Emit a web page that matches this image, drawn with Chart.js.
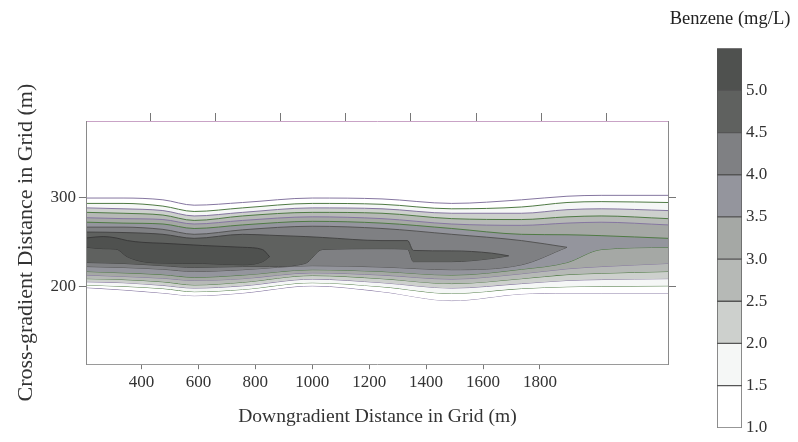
<!DOCTYPE html>
<html>
<head>
<meta charset="utf-8">
<script src="https://cdn.jsdelivr.net/npm/chart.js@4.4.1/dist/chart.umd.min.js"></script>
<style>
  html, body { margin: 0; padding: 0; background: #fff; }
  #wrap { position: relative; width: 798px; height: 442px; }
  #plume { position: absolute; left: 0; top: 0; }
  #scale { position: absolute; left: 662px; top: 0; }
</style>
</head>
<body>
<div id="wrap">
  <canvas id="plume" width="798" height="442"></canvas>
  <canvas id="scale" width="136" height="442"></canvas>
</div>
<script>
// contour levels (mg/L) and the shade used inside each level
const levelValues = [1.0, 1.5, 2.0, 2.5, 3.0, 3.5, 4.0, 4.5, 5.0, 5.5];
const bandColors = ['#ffffff', '#f5f7f6', '#cdd0cd', '#b6b9b6', '#a5a8a5', '#94959d', '#7f8083', '#5f615f', '#4f514f'];
const lineColors = ['#8576a0', '#4f7a44', '#8576a0', '#4f7a44', '#8576a0', '#4f7a44', '#555555', '#454545', '#3a3a3a'];

// axis ticks
const xTicks = [400, 600, 800, 1000, 1200, 1400, 1600, 1800];
const topTicks = [100, 200, 300, 400, 500, 600, 700, 800];
const yTicks = [200, 300];

// contours spanning the whole grid (downgradient x, cross-gradient y)
const contourX = [208, 335, 475, 585, 755, 1000, 1245, 1490, 1735, 1895, 2015, 2250];
const upper10 = [299, 299, 297, 291, 294, 299, 298, 293, 297, 301, 302, 302];
const lower10 = [199, 196.5, 193, 190, 193, 201, 194.5, 184.5, 192, 193, 193, 193];
const upper15 = [293, 293, 290, 284, 288, 293, 292, 287, 289, 294, 295, 294];
const lower15 = [202, 200.5, 198, 194.5, 197, 204.5, 200, 192.5, 198, 200, 200.5, 201];
const upper20 = [288, 287, 285, 279, 283, 288, 287, 282, 282, 286, 287, 285];
const lower20 = [205.5, 204.5, 201.5, 198.5, 201, 208.5, 204.5, 198.5, 203.5, 207, 208, 209];
const upper25 = [283, 282, 280, 274, 279, 283, 282, 276, 275, 278, 279, 276];
const lower25 = [209, 208, 205.5, 202, 205, 212.5, 209, 203.5, 209, 213.5, 215, 217];
const upper30 = [277, 276, 275, 270, 274, 278, 276, 270, 268.5, 271, 272, 269];
const lower30 = [213, 211.5, 209.5, 207, 209, 215.5, 213, 208.5, 214.5, 220, 222.5, 226];
const upper35 = [272, 271, 270, 265, 269, 273, 271, 265, 258.5, 258, 257, 254];
const lower35 = [217, 215.5, 213.5, 210.5, 213, 219, 217, 213, 219.5, 227, 241.5, 244];

// inner contours that close inside the grid
const x40 = [208, 335, 475, 585, 755, 1000, 1245, 1490, 1735, 1895];
const upper40 = [266.5, 266.5, 264, 258.5, 263.5, 267.5, 265, 258.5, 251.5, 244];
const lower40 = [222.5, 221.5, 219.5, 217, 219, 223.5, 222, 219, 224.5, 244];

const x45 = [208, 335, 475, 585, 755, 850, 975, 1035, 1245, 1335, 1355, 1490, 1630, 1690];
const upper45 = [261, 260.5, 258.5, 254, 258.5, 257.5, 256, 255, 251.5, 251.5, 240.5, 240, 237.5, 234.5];
const lower45 = [227, 226, 223.5, 221.5, 222.5, 222.5, 226, 241.5, 242.5, 242, 228, 228, 231.5, 234.5];

const x50 = [208, 265, 310, 350, 405, 475, 615, 755, 825, 850];
const upper50 = [254.5, 256, 254.5, 251.5, 249.5, 248.5, 246, 244, 241.5, 233.5];
const lower50 = [244, 242.5, 242, 233.5, 228, 226.5, 226, 224.5, 228, 233.5];

const contours = [
  [contourX, upper10, lower10],
  [contourX, upper15, lower15],
  [contourX, upper20, lower20],
  [contourX, upper25, lower25],
  [contourX, upper30, lower30],
  [contourX, upper35, lower35],
  [x40, upper40, lower40],
  [x45, upper45, lower45],
  [x50, upper50, lower50]
];

Chart.defaults.font.family = "'Liberation Serif', 'Times New Roman', serif";
Chart.defaults.color = '#333';

const toPoints = (xs, ys) => xs.map((x, i) => ({ x: x, y: ys[i] }));

// each level = upper line filled down to its lower line, outer levels drawn first
const datasets = [];
contours.forEach(([xs, up, lo], i) => {
  const base = datasets.length;
  const common = {
    pointRadius: 0,
    borderWidth: 1,
    borderColor: lineColors[i],
    cubicInterpolationMode: 'monotone',
    order: 50 - i
  };
  datasets.push(Object.assign({}, common, {
    data: toPoints(xs, up),
    backgroundColor: bandColors[i],
    fill: base + 1
  }));
  datasets.push(Object.assign({}, common, {
    data: toPoints(xs, lo),
    fill: false
  }));
});

const tickFont = { size: 17 };
const plain = v => String(v);

new Chart(document.getElementById('plume'), {
  type: 'line',
  data: { datasets: datasets },
  options: {
    responsive: false,
    animation: false,
    events: [],
    layout: { padding: { left: 8, top: 113, right: 122, bottom: 9 } },
    plugins: { legend: { display: false }, tooltip: { enabled: false } },
    scales: {
      x: {
        type: 'linear', position: 'bottom', min: 208, max: 2250,
        afterBuildTicks: axis => { axis.ticks = xTicks.map(v => ({ value: v })); },
        ticks: { font: tickFont, color: '#333', padding: 3, callback: plain },
        grid: { drawOnChartArea: false, tickLength: 5, color: '#777' },
        border: { color: '#9a9a9a' },
        title: { display: true, text: 'Downgradient Distance in Grid (m)', font: { size: 19.5 }, color: '#333', padding: { top: 10, bottom: 4 } }
      },
      x2: {
        type: 'linear', position: 'top', min: 2.1, max: 895,
        afterBuildTicks: axis => { axis.ticks = topTicks.map(v => ({ value: v })); },
        ticks: { display: false },
        grid: { drawOnChartArea: false, tickLength: 8, color: '#777' },
        border: { color: '#c9a3c6' }
      },
      y: {
        type: 'linear', position: 'left', min: 113.5, max: 385,
        afterBuildTicks: axis => { axis.ticks = yTicks.map(v => ({ value: v })); },
        ticks: { font: tickFont, color: '#333', padding: 3, callback: plain },
        grid: { drawOnChartArea: false, tickLength: 8, color: '#777' },
        border: { color: '#8a8a8a' },
        title: { display: true, text: 'Cross-gradient Distance in Grid (m)', font: { size: 22 }, color: '#333', padding: { top: 5, bottom: 8 } }
      },
      y2: {
        type: 'linear', position: 'right', min: 113.5, max: 385,
        afterBuildTicks: axis => { axis.ticks = yTicks.map(v => ({ value: v })); },
        ticks: { display: false },
        grid: { drawOnChartArea: false, tickLength: 8, color: '#777' },
        border: { color: '#8a8a8a' }
      }
    }
  }
});

// colour scale: one floating bar per band
const scaleSets = bandColors.map((c, i) => ({
  data: [[levelValues[i], levelValues[i + 1]]],
  backgroundColor: c,
  borderColor: '#555',
  borderWidth: 1,
  borderSkipped: false,
  grouped: false,
  barPercentage: 1,
  categoryPercentage: 1,
  yAxisID: 'y'
}));

new Chart(document.getElementById('scale'), {
  type: 'bar',
  data: { labels: [''], datasets: scaleSets },
  options: {
    responsive: false,
    animation: false,
    events: [],
    layout: { padding: { left: 0, top: 0, right: 0, bottom: 10 } },
    plugins: {
      legend: { display: false },
      tooltip: { enabled: false },
      title: { display: true, text: 'Benzene (mg/L)', font: { size: 18.5, weight: 'normal' }, color: '#222', padding: { top: 8, bottom: 18 } }
    },
    scales: {
      x: { display: false },
      y: {
        position: 'right', min: 1.0, max: 5.5,
        afterBuildTicks: axis => { axis.ticks = levelValues.slice(0, 9).map(v => ({ value: v })); },
        ticks: { font: tickFont, color: '#333', padding: 4, callback: v => Number(v).toFixed(1) },
        grid: { display: false, drawTicks: false },
        border: { display: false },
        afterFit: axis => { axis.width = 56; }
      },
      // empty left axis only reserves room so the bar sits under the title
      pad: {
        position: 'left', display: true, min: 1.0, max: 5.5,
        ticks: { display: false },
        grid: { display: false, drawTicks: false },
        border: { display: false },
        afterFit: axis => { axis.width = 55; }
      }
    }
  }
});
</script>
</body>
</html>
